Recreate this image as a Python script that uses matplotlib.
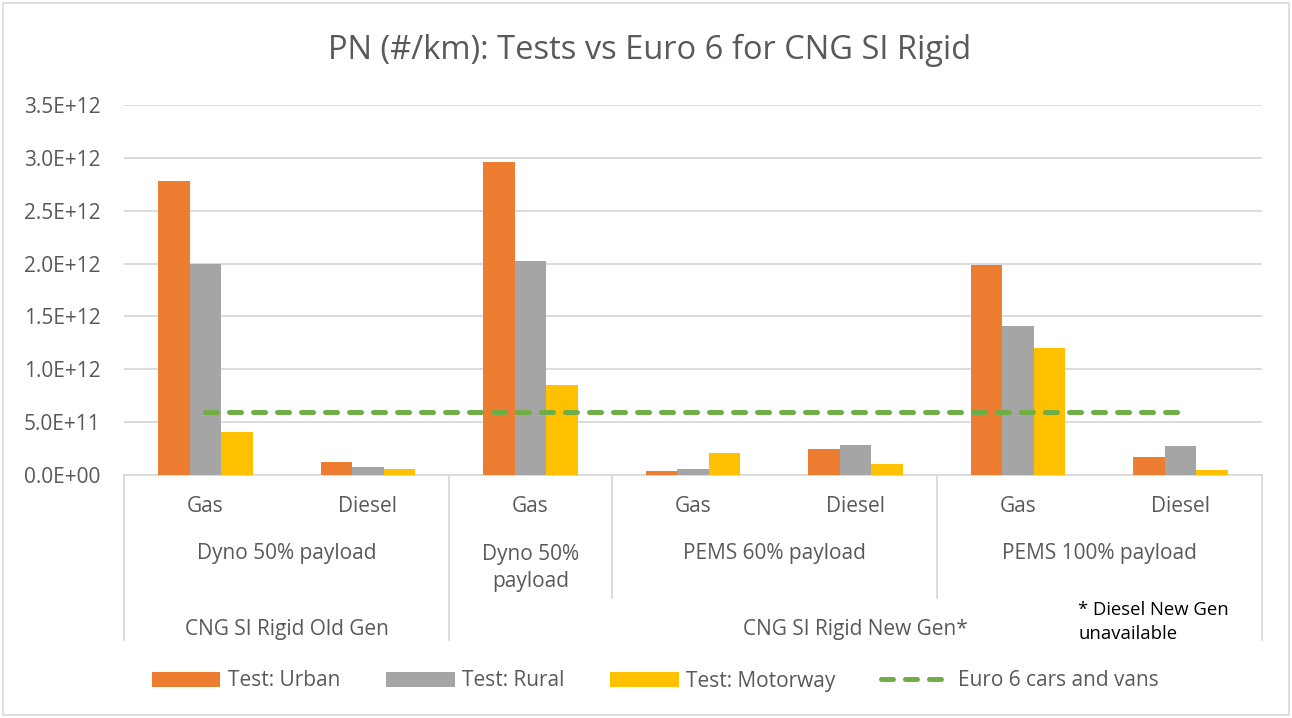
import matplotlib
matplotlib.use("Agg")
from matplotlib import pyplot as plt
from matplotlib.patches import Rectangle
from matplotlib.lines import Line2D
import matplotlib.transforms as mtransforms
import numpy as np

plt.rcParams['font.family'] = ['Open Sans', 'DejaVu Sans']

fuels = ["Gas", "Diesel", "Gas", "Gas", "Diesel", "Gas", "Diesel"]
urban = [2.78e12, 1.2e11, 2.96e12, 4e10, 2.5e11, 1.99e12, 1.7e11]
rural = [2.0e12, 8e10, 2.02e12, 6e10, 2.8e11, 1.41e12, 2.7e11]
motorway = [4.1e11, 6e10, 8.5e11, 2.1e11, 1.0e11, 1.2e12, 5e10]
euro6 = [6e11] * 7

# (label, first category, last category)
tests = [("Dyno 50% payload", 0, 1), ("Dyno 50%\npayload", 2, 2),
         ("PEMS 60% payload", 3, 4), ("PEMS 100% payload", 5, 6)]
gens = [("CNG SI Rigid Old Gen", 0, 1), ("CNG SI Rigid New Gen*", 2, 6)]
yticks = np.arange(0, 3.51e12, 0.5e12)

ORANGE = "#ED7D31"
GREY = "#A5A5A5"
GOLD = "#FFC000"
GREEN = "#70AD47"
TXT = "#595959"
GRID = "#D9D9D9"

fig = plt.figure(figsize=(12.92, 7.18), dpi=100)
ax = fig.add_axes([124 / 1292, 1 - 475 / 718, (1262 - 124) / 1292, 370 / 718])

x = np.arange(len(fuels))
w = 0.194
ax.bar(x - w, urban, w, color=ORANGE, label="Test: Urban", zorder=3)
ax.bar(x, rural, w, color=GREY, label="Test: Rural", zorder=3)
ax.bar(x + w, motorway, w, color=GOLD, label="Test: Motorway", zorder=3)
ax.plot(x, euro6, color=GREEN, lw=3.6, dashes=(2.4, 2.4), dash_capstyle="round",
        label="Euro 6 cars and vans", zorder=4)

ax.set_xlim(-0.5, len(fuels) - 0.5)
ax.set_ylim(0, 3.5e12)
ax.set_yticks(yticks)
ax.set_yticklabels(["%.1fE+%02d" % (v / 10 ** int(np.floor(np.log10(v))), int(np.floor(np.log10(v))))
                    if v > 0 else "0.0E+00" for v in yticks])
ax.tick_params(axis="y", length=0, labelsize=15, labelcolor=TXT, pad=17)
ax.set_xticks([])
ax.grid(axis="y", color=GRID, lw=1.3, zorder=0)
for s in ["top", "right", "left"]:
    ax.spines[s].set_visible(False)
ax.spines["bottom"].set_color(GRID)
ax.spines["bottom"].set_linewidth(1.3)

trans = mtransforms.blended_transform_factory(ax.transData, ax.transAxes)
ph = 370.0
def yax(py):
    return (475 - py) / ph

# multi-level category axis
for i, f in enumerate(fuels):
    ax.text(i, yax(507), f, transform=trans, ha="center", va="center", fontsize=15, color=TXT)
for lab, a, b in tests:
    ax.text((a + b) / 2, yax(568) if "\n" in lab else yax(554), lab, transform=trans,
            ha="center", va="center", fontsize=15, color=TXT, linespacing=1.35)
for lab, a, b in gens:
    ax.text((a + b) / 2, yax(630), lab, transform=trans, ha="center", va="center",
            fontsize=15, color=TXT)
for xb, bottom in [(-0.5, 640), (1.5, 640), (2.5, 598), (4.5, 598), (6.5, 640)]:
    ax.add_line(Line2D([xb, xb], [0, yax(bottom)], transform=trans, color=GRID,
                       lw=1.3, clip_on=False))

ax.text(5.37, yax(622), "* Diesel New Gen\nunavailable", transform=trans, ha="left",
        va="center", fontsize=13.3, color="black", linespacing=1.42)

fig.text(650 / 1292, 1 - 50 / 718, "PN (#/km): Tests vs Euro 6 for CNG SI Rigid",
         ha="center", va="center", fontsize=23.5, color=TXT)

handles, labels = ax.get_legend_handles_labels()
order = [1, 2, 3, 0]
fig.legend([handles[i] for i in order], [labels[i] for i in order],
           loc="center", bbox_to_anchor=(655 / 1292, 1 - 681 / 718), ncol=4, frameon=False,
           fontsize=15, labelcolor=TXT, handlelength=3.3, handleheight=0.7,
           handletextpad=0.35, columnspacing=2.2)

fig.patches.append(Rectangle((3 / 1292, 3 / 718), 1 - 6 / 1292, 1 - 6 / 718,
                             transform=fig.transFigure, fill=False, edgecolor=GRID, lw=1.2))

fig.savefig("out.png", dpi=100, facecolor="white")
